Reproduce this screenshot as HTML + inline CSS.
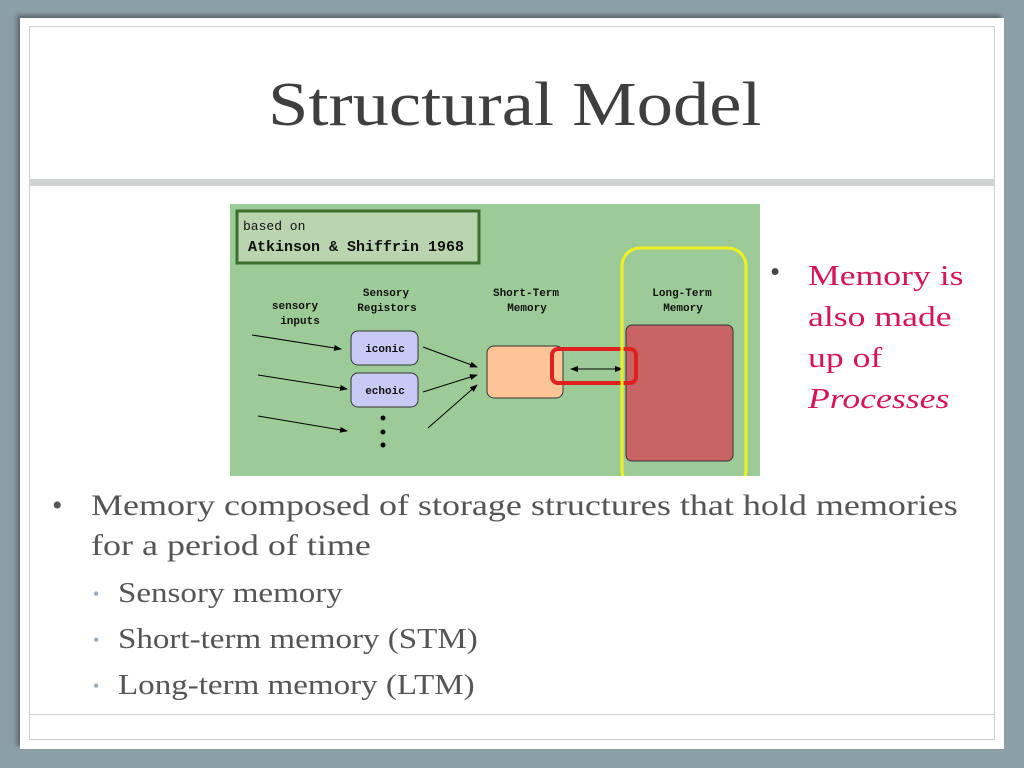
<!DOCTYPE html>
<html><head><style>
body{margin:0;width:1024px;height:768px;background:#8a9fa6;position:relative;overflow:hidden;font-family:"Liberation Serif",serif}
.slide{position:absolute;left:20px;top:18px;width:984px;height:731px;background:#fff;box-shadow:-3px -3px 4px rgba(0,0,0,0.35)}
.inner{position:absolute;left:29px;top:26px;width:964px;height:712px;border:1px solid #cfcfcf}
.bar{position:absolute;left:30px;top:179px;width:964px;height:7px;background:#d0d2d4}
.hl{position:absolute;left:30px;top:714px;width:964px;height:1px;background:#cfcfcf}
.t{position:absolute;color:#444;white-space:nowrap;transform-origin:0 0}
</style></head><body>
<div class="slide"></div><div class="inner"></div><div class="bar"></div><div class="hl"></div>
<div class="t" style="left:268px;top:70px;font-size:62px;color:#3f3f3f;transform:scaleX(1.17)">Structural Model</div>
<svg style="position:absolute;left:230px;top:204px" width="530" height="272" viewBox="0 0 530 272">
<defs><marker id="a" markerWidth="8" markerHeight="6" refX="7" refY="3" orient="auto"><path d="M0,0L8,3L0,6z" fill="#000"/></marker>
<marker id="b" markerWidth="8" markerHeight="6" refX="1" refY="3" orient="auto"><path d="M8,0L0,3L8,6z" fill="#000"/></marker></defs>
<rect width="530" height="272" fill="#9dcb97"/>
<rect x="7" y="7" width="242" height="52" fill="#b9d4ae" stroke="#3c6e2c" stroke-width="3"/>
<rect x="121" y="127" width="67" height="34" rx="7" fill="#c9c9f5" stroke="#333"/>
<rect x="121" y="169" width="67" height="34" rx="7" fill="#c9c9f5" stroke="#333"/>
<rect x="257" y="142" width="76" height="52" rx="7" fill="#fdc495" stroke="#333"/>
<rect x="396" y="121" width="107" height="136" rx="6" fill="#c96464" stroke="#333"/>
<g font-family="Liberation Mono, monospace" font-weight="bold" fill="#111">
<text x="13" y="26" font-size="13" font-weight="normal">based on</text>
<text x="18" y="47" font-size="15">Atkinson &amp; Shiffrin 1968</text>
<g font-size="11" text-anchor="middle">
<text x="65" y="105">sensory</text><text x="70" y="120">inputs</text>
<text x="156" y="92">Sensory</text><text x="157" y="107">Registors</text>
<text x="296" y="92">Short-Term</text><text x="297" y="107">Memory</text>
<text x="452" y="92">Long-Term</text><text x="453" y="107">Memory</text>
<text x="155" y="148">iconic</text><text x="155" y="190">echoic</text></g></g>
<g stroke="#000" stroke-width="1" fill="none">
<line x1="22" y1="131" x2="111" y2="145" marker-end="url(#a)"/>
<line x1="28" y1="171" x2="117" y2="185" marker-end="url(#a)"/>
<line x1="28" y1="212" x2="117" y2="227" marker-end="url(#a)"/>
<line x1="193" y1="143" x2="247" y2="163" marker-end="url(#a)"/>
<line x1="193" y1="188" x2="247" y2="171" marker-end="url(#a)"/>
<line x1="198" y1="224" x2="247" y2="181" marker-end="url(#a)"/>
<line x1="341" y1="165" x2="392" y2="165" marker-end="url(#a)" marker-start="url(#b)"/>
</g>
<circle cx="153" cy="214" r="2.5"/><circle cx="153" cy="228" r="2.5"/><circle cx="153" cy="241" r="2.5"/>
<rect x="322" y="145" width="84" height="34" rx="6" fill="none" stroke="#e02020" stroke-width="4"/>
<rect x="392" y="44" width="124" height="240" rx="18" fill="none" stroke="#f0f020" stroke-width="3"/>
</svg>
<div class="t" style="left:770px;top:256px;font-size:29px;color:#444">•</div>
<div class="t" style="left:808px;top:256px;font-size:29px;line-height:41px;color:#d6145a;transform:scaleX(1.23)">Memory is<br>also made<br>up of<br><i>Processes</i></div>
<div class="t" style="left:52px;top:486px;font-size:30px;line-height:40px;color:#555">•</div>
<div class="t" style="left:91px;top:486px;font-size:30px;line-height:40px;color:#555;transform:scaleX(1.2)">Memory composed of storage structures that hold memories<br>for a period of time</div>
<div class="t" style="left:93px;top:571px;font-size:18px;line-height:46px;color:#9ab">•<br>•<br>•</div>
<div class="t" style="left:118px;top:571px;font-size:28px;line-height:46px;color:#555;transform:scaleX(1.18)">Sensory memory<br>Short-term memory (STM)<br>Long-term memory (LTM)</div>
</body></html>
